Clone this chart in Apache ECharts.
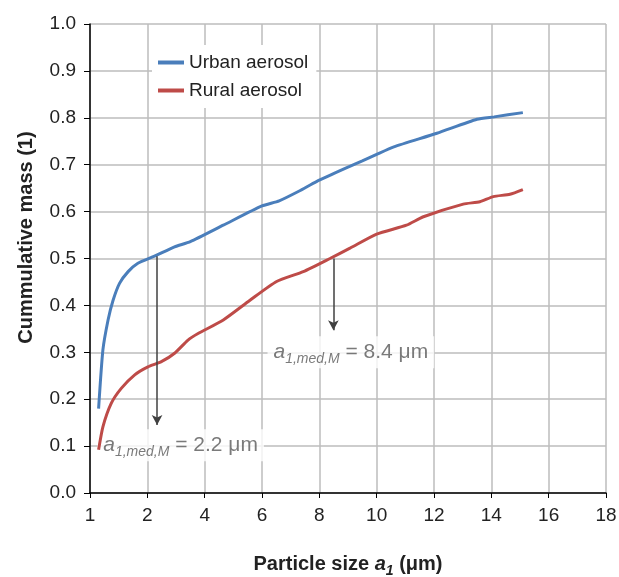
<!DOCTYPE html>
<html>
<head>
<meta charset="utf-8">
<script src="https://cdn.jsdelivr.net/npm/echarts@6/dist/echarts.min.js"></script>
<style>
  html, body { margin: 0; padding: 0; background: #fff; }
  #view { width: 619px; height: 577px; }
</style>
</head>
<body>
<div id="view"></div>
<script>
// values
let urbanX = [0.3, 0.45, 0.63, 0.8, 1.03, 1.33, 1.67, 2.25, 2.95, 3.5, 4.65, 6.0, 6.6, 7.3, 7.9, 8.9, 9.5, 10.0, 10.6, 12.1, 13.5, 14.1, 15.1];
let urbanY = [0.18, 0.305, 0.369, 0.41, 0.447, 0.472, 0.49, 0.505, 0.525, 0.536, 0.571, 0.612, 0.623, 0.644, 0.664, 0.692, 0.708, 0.722, 0.738, 0.767, 0.797, 0.802, 0.811];
let ruralX = [0.3, 0.45, 0.74, 1.09, 1.56, 2.02, 2.49, 2.95, 3.42, 3.77, 4.65, 5.58, 6.51, 7.44, 8.37, 9.07, 10.0, 11.04, 11.63, 13.02, 13.6, 14.07, 14.65, 15.1];
let ruralY = [0.092, 0.141, 0.191, 0.223, 0.252, 0.269, 0.28, 0.298, 0.326, 0.34, 0.369, 0.411, 0.451, 0.472, 0.5, 0.522, 0.552, 0.571, 0.589, 0.616, 0.621, 0.632, 0.637, 0.647];

// median arrows: [x, yFrom, yTo], and where their labels sit
let medianArrows = [[2.34, 0.505, 0.145], [8.49, 0.5, 0.347]];
let medianLabels = [[3.16, 0.102, "2.2"], [9.1, 0.3, "8.4"]];

let font = "'Liberation Sans', Arial, sans-serif";

let zip = (xs, ys) => xs.map((x, i) => [x, ys[i]]);

let myChart = echarts.init(document.getElementById("view"));

let option = {
  backgroundColor: "#fff",
  animation: false,
  grid: { left: 90, right: 13, top: 24, bottom: 84, outerBoundsMode: "none" },
  legend: {
    orient: "vertical",
    left: 152,
    top: 45,
    backgroundColor: "#fff",
    padding: [8, 8, 8, 6],
    itemGap: 9,
    itemWidth: 26,
    itemHeight: 4,
    icon: "rect",
    textStyle: { fontFamily: font, fontSize: 19, color: "#222" },
    data: ["Urban aerosol", "Rural aerosol"],
  },
  xAxis: {
    type: "value",
    min: 0,
    max: 18,
    interval: 2,
    name: "{b|Particle size }{i|a}{s|1}{b| (μm)}",
    nameLocation: "middle",
    nameGap: 57,
    nameTextStyle: {
      rich: {
        b: { fontFamily: font, fontWeight: "bold", fontSize: 20, color: "#222", lineHeight: 28, verticalAlign: "middle" },
        i: { fontFamily: font, fontWeight: "bold", fontStyle: "italic", fontSize: 20, color: "#222", lineHeight: 28, verticalAlign: "middle" },
        s: { fontFamily: font, fontWeight: "bold", fontStyle: "italic", fontSize: 14, color: "#222", lineHeight: 28, verticalAlign: "bottom" },
      },
    },
    axisLine: { lineStyle: { color: "#000", width: 1.5 } },
    axisTick: { length: 5, lineStyle: { color: "#000" } },
    axisLabel: {
      margin: 13,
      fontFamily: font,
      fontSize: 19,
      color: "#222",
      formatter: (v) => (v === 0 ? "1" : String(v)),
    },
    splitLine: { show: true, lineStyle: { color: "#bdbdbd", width: 1.5 } },
  },
  yAxis: {
    type: "value",
    min: 0,
    max: 1,
    interval: 0.1,
    name: "Cummulative mass (1)",
    nameLocation: "middle",
    nameGap: 54,
    nameTextStyle: {
      fontFamily: font,
      fontWeight: "bold",
      fontSize: 20,
      color: "#222",
      padding: [0, 0, 0, 42],
    },
    axisLine: { show: true, lineStyle: { color: "#000", width: 1.5 } },
    axisTick: { show: true, length: 6, lineStyle: { color: "#000" } },
    axisLabel: {
      margin: 14,
      fontFamily: font,
      fontSize: 19,
      color: "#222",
      formatter: (v) => v.toFixed(1),
    },
    splitLine: { lineStyle: { color: "#bdbdbd", width: 1.5 } },
  },
  series: [
    {
      name: "Urban aerosol",
      type: "line",
      z: 3,
      smooth: 0.2,
      symbol: "none",
      lineStyle: { color: "#4a7ebb", width: 3 },
      itemStyle: { color: "#4a7ebb" },
      data: zip(urbanX, urbanY),
    },
    {
      name: "Rural aerosol",
      type: "line",
      z: 3,
      smooth: 0.2,
      symbol: "none",
      lineStyle: { color: "#be4b48", width: 3 },
      itemStyle: { color: "#be4b48" },
      data: zip(ruralX, ruralY),
    },
    {
      name: "median",
      type: "scatter",
      z: 1,
      silent: true,
      symbolSize: 0,
      data: medianLabels.map((m) => ({ value: [m[0], m[1]], text: m[2] })),
      label: {
        show: true,
        position: "inside",
        backgroundColor: "#fff",
        padding: [2, 6, 2, 6],
        formatter: (p) => "{a|a}{s|1,med,M}{n| = " + p.data.text + " μm}",
        rich: {
          a: { fontFamily: font, fontStyle: "italic", fontSize: 21, color: "#595959", lineHeight: 28, verticalAlign: "middle" },
          s: { fontFamily: font, fontStyle: "italic", fontSize: 14, color: "#595959", lineHeight: 28, verticalAlign: "bottom" },
          n: { fontFamily: font, fontSize: 21, color: "#595959", lineHeight: 28, verticalAlign: "middle" },
        },
      },
      markLine: {
        silent: true,
        symbol: ["none", "arrow"],
        symbolSize: [8, 10],
        label: { show: false },
        lineStyle: { color: "#404040", width: 1.5, type: "solid" },
        data: medianArrows.map((a) => [{ coord: [a[0], a[1]] }, { coord: [a[0], a[2]] }]),
      },
    },
  ],
};
myChart.setOption(option);
</script>
</body>
</html>
